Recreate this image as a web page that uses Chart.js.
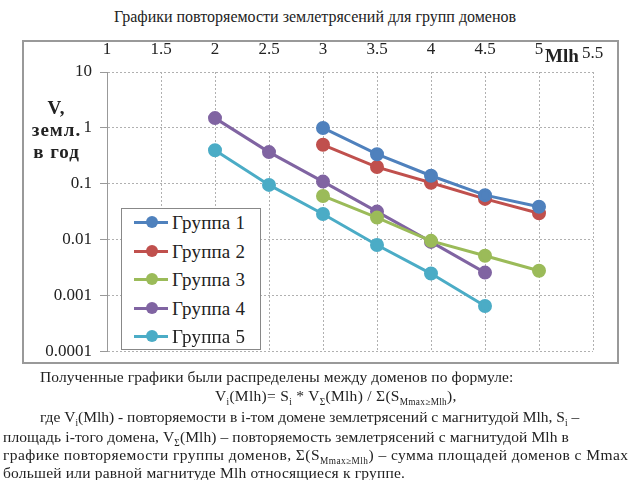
<!DOCTYPE html>
<html><head><meta charset="utf-8">
<script src="https://cdn.jsdelivr.net/npm/chart.js@4/dist/chart.umd.min.js"></script>
<style>
body{margin:0;width:640px;height:480px;background:#fff;position:relative;overflow:hidden;font-family:"Liberation Serif","Times New Roman",Times,"Noto Serif","DejaVu Serif",Tinos,serif;color:#222;}
.abs{position:absolute;white-space:nowrap;}
#frame{position:absolute;left:22px;top:40px;width:593px;height:320px;border:2px solid #999;}
#wrap{position:absolute;left:22px;top:40px;width:595px;height:330px;}
#legend{position:absolute;left:121px;top:208px;width:138px;height:140px;border:1px solid #888;background:#fff;}
.li{position:absolute;left:0;width:138px;height:28px;font-size:19px;line-height:28px;white-space:nowrap;}
.li .ln{position:absolute;left:12px;top:12px;width:34px;height:3px;}
.li .dot{position:absolute;left:24px;top:7px;width:12px;height:12px;border-radius:50%;}
.li .tx{position:absolute;left:50px;top:0;letter-spacing:0.2px;}
sub{font-size:60%;}
.p{font-size:15.5px;}
</style></head>
<body>
<div class="abs" id="title" style="left:0;width:630px;text-align:center;top:8px;font-size:16px;">Графики повторяемости землетрясений для групп доменов</div>
<div id="frame"></div>
<div id="wrap"><canvas id="c" width="595" height="330"></canvas></div>
<div class="abs" style="left:545px;top:45px;font-size:19px;font-weight:bold;">Mlh</div>
<div class="abs" style="left:29px;top:97px;width:55px;font-size:19px;font-weight:bold;line-height:22px;text-align:center;letter-spacing:1px;">V,<br>земл.<br>в год</div>
<div id="legend"></div>
<div class="abs p" style="left:40px;top:368px;letter-spacing:0.1px;">Полученные графики были распределены между доменов по формуле:</div>
<div class="abs p" style="left:215px;top:387px;letter-spacing:0.3px;">V<sub>i</sub>(Mlh)= S<sub>i</sub> * V<sub>Σ</sub>(Mlh) / Σ(S<sub>Mmax≥Mlh</sub>),</div>
<div class="abs p" style="left:40px;top:408px;">где V<sub>i</sub>(Mlh) - повторяемости в i-том домене землетрясений с магнитудой Mlh, S<sub>i</sub> –</div>
<div class="abs p" style="left:3px;top:428px;letter-spacing:0.1px;">площадь i-того домена, V<sub>Σ</sub>(Mlh) – повторяемость землетрясений с магнитудой Mlh в</div>
<div class="abs p" style="left:3px;top:446px;letter-spacing:0.45px;">графике повторяемости группы доменов, Σ(S<sub>Mmax≥Mlh</sub>) – сумма площадей доменов с Mmax</div>
<div class="abs p" style="left:3px;top:464px;letter-spacing:0.2px;">большей или равной магнитуде Mlh относящиеся к группе.</div>
<script>
const seriesNames = ["Группа 1","Группа 2","Группа 3","Группа 4","Группа 5"];
const seriesColors = ["#4F81BD","#C0504D","#9BBB59","#8064A2","#4BACC6"];
const mlh1 = [3, 3.5, 4, 4.5, 5];
const v1 = [1.0, 0.34, 0.14, 0.063, 0.039];
const mlh2 = [3, 3.5, 4, 4.5, 5];
const v2 = [0.50, 0.20, 0.105, 0.054, 0.030];
const mlh3 = [3, 3.5, 4, 4.5, 5];
const v3 = [0.061, 0.025, 0.0096, 0.0052, 0.0028];
const mlh4 = [2, 2.5, 3, 3.5, 4, 4.5];
const v4 = [1.5, 0.37, 0.11, 0.032, 0.0092, 0.0026];
const mlh5 = [2, 2.5, 3, 3.5, 4, 4.5];
const v5 = [0.40, 0.096, 0.029, 0.0081, 0.0025, 0.00066];
const xTicks = [1, 1.5, 2, 2.5, 3, 3.5, 4, 4.5, 5, 5.5];
const yTicks = [0.0001, 0.001, 0.01, 0.1, 1, 10];

const xs = [mlh1, mlh2, mlh3, mlh4, mlh5];
const vs = [v1, v2, v3, v4, v5];
const datasets = seriesNames.map((n, i) => ({
  label: n,
  data: xs[i].map((x, j) => ({x: x, y: vs[i][j]})),
  borderColor: seriesColors[i],
  backgroundColor: seriesColors[i],
  borderWidth: 3,
  pointRadius: 5.5,
  pointHoverRadius: 5.5,
  showLine: true,
  tension: 0
}));

const lg = document.getElementById('legend');
seriesNames.forEach((n, i) => {
  const d = document.createElement('div');
  d.className = 'li';
  d.style.top = (i * 28.5) + 'px';
  d.innerHTML = '<div class="ln" style="background:' + seriesColors[i] + '"></div><div class="dot" style="background:' + seriesColors[i] + '"></div><div class="tx">' + n + '</div>';
  lg.appendChild(d);
});

const FONT = "'Liberation Serif', 'Times New Roman', Times, 'Noto Serif', 'DejaVu Serif', Tinos, serif";
new Chart(document.getElementById('c'), {
  type: 'scatter',
  data: {datasets: datasets},
  options: {
    responsive: false,
    animation: false,
    devicePixelRatio: 1,
    layout: {padding: {left: 0, right: 24, top: 0, bottom: 3}},
    plugins: {legend: {display: false}, tooltip: {enabled: false}, title: {display: false}},
    scales: {
      x: {
        type: 'linear', position: 'top', min: 1, max: 5.5,
        afterBuildTicks: s => { s.ticks = xTicks.map(v => ({value: v})); },
        afterFit: s => { s.height = 32; },
        ticks: {font: {family: FONT, size: 17}, color: '#222', padding: 12,
          callback: v => (v === 5.5 ? '' : String(v))},
        grid: {color: '#b0b0b0', lineWidth: 1, drawTicks: false},
        border: {display: false, dash: [2, 2]}
      },
      y: {
        type: 'logarithmic', min: 0.0001, max: 10,
        afterBuildTicks: s => { s.ticks = yTicks.map(v => ({value: v})); },
        afterFit: s => { s.width = 85; },
        ticks: {font: {family: FONT, size: 17}, color: '#222', padding: 8,
          callback: v => String(v)},
        grid: {color: '#b0b0b0', lineWidth: 1, tickLength: 7, tickColor: '#999', tickBorderDash: []},
        border: {display: true, color: '#999', width: 1, dash: [2, 2]}
      }
    }
  }
});
</script>
<div class="abs" style="left:582px;top:43px;font-size:17px;">5.5</div>
</body></html>
